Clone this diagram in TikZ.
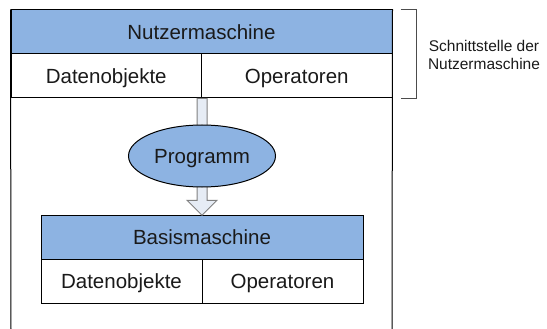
\documentclass[tikz,border=0pt]{standalone}
\usepackage{fontspec}
\setmainfont{Liberation Sans}
\usetikzlibrary{shapes.geometric,calc}
\definecolor{headblue}{RGB}{141,179,226}
\definecolor{arrowfill}{RGB}{230,236,245}
\definecolor{textgray}{RGB}{26,26,26}
\begin{document}
\begin{tikzpicture}[x=1pt, y=-1pt,
  label font/.style={text=textgray, font=\fontsize{20.5}{24}\selectfont, text height=14.7pt, text depth=0pt},
  head/.style={draw, line width=1pt, fill=headblue, minimum height=44pt, inner sep=0pt, label font},
  cell/.style={draw, line width=1pt, fill=white, minimum height=44pt, inner sep=0pt, label font},
  blockarrow/.style={draw=gray, line width=1pt, fill=arrowfill},
  frame/.style={draw, line width=1pt}]
\useasboundingbox (0,0) rectangle (547,329);

% user machine and its interface
\node[head, minimum width=381pt] at (201.5, 32) (nutzer) {Nutzermaschine};
\node[cell, minimum width=190.5pt] at (106.25, 76) (ndaten) {Datenobjekte};
\node[cell, minimum width=190.5pt] at (296.75, 76) (nops) {Operatoren};

\coordinate (fleft) at (11, 329);
\coordinate (fright) at (392, 329);
\draw [frame] (nutzer.north west) -- (fleft);
\draw [frame] (nutzer.north east) -- (fright);

% base machine
\node[head, minimum width=322pt, minimum height=43.5pt] at (202, 237.5) (basis) {Basismaschine};
\node[cell, minimum width=161pt] at (121.5, 281) (bdaten) {Datenobjekte};
\node[cell, minimum width=161pt] at (282.5, 281) (bops) {Operatoren};

% block arrow behind the program
\draw [blockarrow] ($(ndaten.south east)+(-5,0)$) -- ($(basis.north)+(-5,-15)$)
  -- ($(basis.north)+(-15,-15)$) -- (basis.north) -- ($(basis.north)+(15,-15)$)
  -- ($(basis.north)+(5,-15)$) -- ($(ndaten.south east)+(5,0)$) -- cycle;

\node[ellipse, draw, line width=1pt, fill=headblue, minimum width=147pt, minimum height=62pt, inner sep=0pt,
  label font] at (202, 156) (prog) {Programm};

% bracket for the interface
\draw [draw=black!70, line width=1pt] ($(nutzer.north east)+(8,0)$) -| ($(nops.south east)+(24,0)$)
  -- ($(nops.south east)+(8,0)$);
\node[align=center, text=textgray, font=\fontsize{15.5}{18}\selectfont] at (484, 55) (iface)
  {Schnittstelle der\\Nutzermaschine};
\end{tikzpicture}
\end{document}
